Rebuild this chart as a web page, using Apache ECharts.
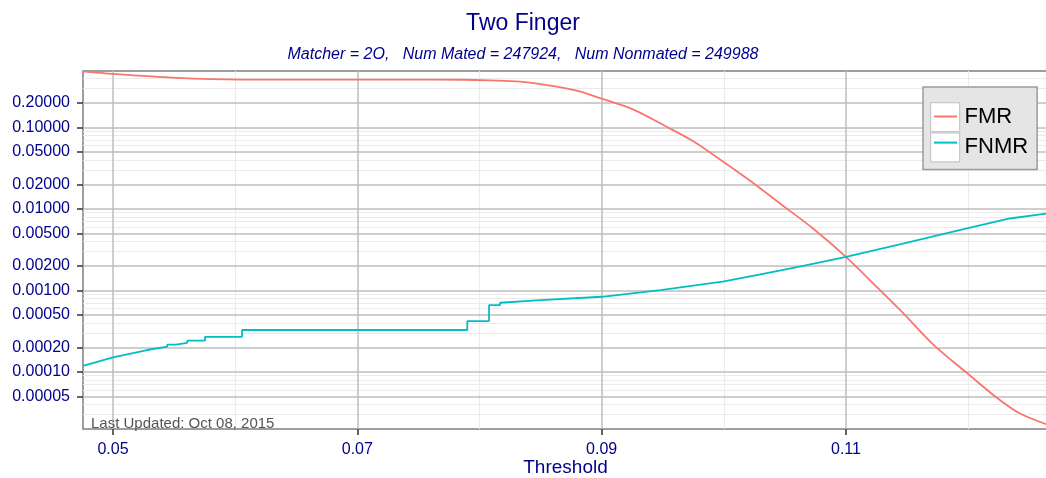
<!DOCTYPE html>
<html><head><meta charset="utf-8">
<script src="https://cdn.jsdelivr.net/npm/echarts@6/dist/echarts.min.js"></script>
<style>html,body{margin:0;padding:0;background:#fff}#c{width:1046px;height:478px}</style>
</head><body><div id="c"></div>
<script>
// ---- data ----
const fmrThreshold = [0.04754, 0.0500, 0.0552, 0.0605, 0.0653, 0.0735, 0.0787, 0.0809, 0.0833, 0.0862, 0.0882, 0.0900, 0.0926, 0.0954, 0.0975, 0.0999, 0.1024, 0.1046, 0.1073, 0.1100, 0.1125, 0.1147, 0.1171, 0.1200, 0.1224, 0.1242, 0.12653];
const fmrValues    = [0.485, 0.451, 0.404, 0.385, 0.384, 0.384, 0.383, 0.376, 0.364, 0.318, 0.276, 0.2245, 0.165, 0.100, 0.0674, 0.0384, 0.0208, 0.01164, 0.00575, 0.00258, 0.00111, 0.000524, 0.000220, 0.0000944, 0.0000476, 0.0000312, 0.0000225];

const fnmrThreshold = [0.04754, 0.0500, 0.0528, 0.05444, 0.05444, 0.05513, 0.05513, 0.05608, 0.05608, 0.05753, 0.05753, 0.06056, 0.06056, 0.0790, 0.0790, 0.08078, 0.08078, 0.08168, 0.08168, 0.0850, 0.0900, 0.0948, 0.0999, 0.1029, 0.1062, 0.1100, 0.1144, 0.1199, 0.1234, 0.12653];
const fnmrValues    = [0.000119, 0.000151, 0.000186, 0.000204, 0.000216, 0.000216, 0.000228, 0.000228, 0.000242, 0.000242, 0.000270, 0.000270, 0.000327, 0.000327, 0.000421, 0.000421, 0.000661, 0.000661, 0.000706, 0.000762, 0.000836, 0.00101, 0.00128, 0.00156, 0.00196, 0.00258, 0.00366, 0.00575, 0.00762, 0.00880];

const seriesNames = ['FMR', 'FNMR'];
const yMajorTicks = [0.2, 0.1, 0.05, 0.02, 0.01, 0.005, 0.002, 0.001, 0.0005, 0.0002, 0.0001, 0.00005];
const yMinorTicks = [0.4, 0.3, 0.09, 0.08, 0.07, 0.06, 0.04, 0.03,
                     0.009, 0.008, 0.007, 0.006, 0.004, 0.003,
                     0.0009, 0.0008, 0.0007, 0.0006, 0.0004, 0.0003,
                     0.00009, 0.00008, 0.00007, 0.00006, 0.00004, 0.00003];
const xMajorTicks = [0.05, 0.07, 0.09, 0.11];
const xMinorTicks = [0.06, 0.08, 0.10, 0.12];
const xLimits = [0.047544, 0.126535];
const yLimits = [0.00002, 0.49];

const titleText = 'Two Finger';
const subtitleText = 'Matcher = 2O,   Num Mated = 247924,   Num Nonmated = 249988';
const footText = 'Last Updated: Oct 08, 2015';

// ---- chart ----
const FONT = '"Liberation Sans", Arial, sans-serif';
const BLUE = '#00008B';
const lg = v => Math.log10(v);

const chart = echarts.init(document.getElementById('c'), null, {renderer: 'canvas'});

const fmrData = fmrThreshold.map((t, i) => [t, lg(fmrValues[i])]);
const fnmrData = fnmrThreshold.map((t, i) => [t, lg(fnmrValues[i])]);

chart.setOption({
  animation: false,
  backgroundColor: '#fff',
  title: [
    {text: titleText, left: 'center', top: 7, textStyle: {fontFamily: FONT, fontSize: 23, fontWeight: 'normal', color: BLUE}},
    {text: subtitleText, left: 'center', top: 42, textStyle: {fontFamily: FONT, fontSize: 16, fontStyle: 'italic', fontWeight: 'normal', color: BLUE}},
    {text: footText, left: 86, top: 411, textStyle: {fontFamily: FONT, fontSize: 15, fontWeight: 'normal', color: '#555'}}
  ],
  grid: {left: 83, right: -2, top: 71, bottom: 49, show: true, borderColor: '#7f7f7f', borderWidth: 1.5,
         backgroundColor: 'transparent', containLabel: false, outerBoundsMode: 'none'},
  legend: [
    {
      data: seriesNames, orient: 'vertical', left: 923, top: 87, padding: [15, 9, 7, 7],
      itemWidth: 29, itemHeight: 29, itemGap: 0, icon: 'rect', selectedMode: false,
      itemStyle: {color: '#fff', borderColor: '#c8c8c8', borderWidth: 1.2},
      backgroundColor: '#e5e5e5', borderColor: '#9a9a9a', borderWidth: 1.5,
      textStyle: {fontFamily: FONT, fontSize: 22, color: '#000'}
    },
    {
      data: seriesNames, orient: 'vertical', left: 933, top: 102, padding: 0,
      itemWidth: 23, itemHeight: 29, itemGap: 0, selectedMode: false,
      itemStyle: {opacity: 0}, formatter: () => '',
      textStyle: {fontFamily: FONT, fontSize: 22}
    }
  ],
  xAxis: [
    {
      type: 'value', min: xLimits[0], max: xLimits[1], z: 2,
      name: 'Threshold', nameLocation: 'middle', nameGap: 29, nameMoveOverlap: false,
      nameTextStyle: {fontFamily: FONT, fontSize: 19, color: BLUE},
      axisLine: {show: false},
      axisTick: {show: true, customValues: xMajorTicks, length: 6, lineStyle: {color: '#333', width: 1.5}},
      axisLabel: {customValues: xMajorTicks, margin: 13, fontFamily: FONT, fontSize: 16, color: BLUE, formatter: v => String(v)},
      splitLine: {show: true, lineStyle: {color: '#bebebe', width: 1.5}}
    },
    {
      type: 'value', min: xLimits[0], max: xLimits[1], z: 1,
      axisLine: {show: false},
      axisTick: {show: false, customValues: xMinorTicks},
      axisLabel: {show: false, customValues: xMinorTicks},
      splitLine: {show: true, lineStyle: {color: '#ebebeb', width: 1}}
    }
  ],
  yAxis: [
    {
      type: 'value', min: lg(yLimits[0]), max: lg(yLimits[1]), z: 2,
      axisLine: {show: false},
      axisTick: {show: true, customValues: yMajorTicks.map(lg), length: 6, lineStyle: {color: '#333', width: 1.5}},
      axisLabel: {customValues: yMajorTicks.map(lg), margin: 13, fontFamily: FONT, fontSize: 16, color: BLUE,
                  formatter: v => Math.pow(10, v).toFixed(5)},
      splitLine: {show: true, lineStyle: {color: '#bebebe', width: 1.5}}
    },
    {
      type: 'value', min: lg(yLimits[0]), max: lg(yLimits[1]), z: 1,
      axisLine: {show: false},
      axisTick: {show: false, customValues: yMinorTicks.map(lg)},
      axisLabel: {show: false, customValues: yMinorTicks.map(lg)},
      splitLine: {show: true, lineStyle: {color: '#ebebeb', width: 1}}
    }
  ],
  series: [
    {name: seriesNames[0], type: 'line', data: fmrData, showSymbol: false, symbol: 'none', z: 5,
     smooth: 0.3,
     color: '#F8766D', lineStyle: {color: '#F8766D', width: 1.8}, clip: true},
    {name: seriesNames[1], type: 'line', data: fnmrData, showSymbol: false, symbol: 'none', z: 5,
     color: '#00BFC4', lineStyle: {color: '#00BFC4', width: 1.8}, clip: true}
  ]
});
</script>
</body></html>
